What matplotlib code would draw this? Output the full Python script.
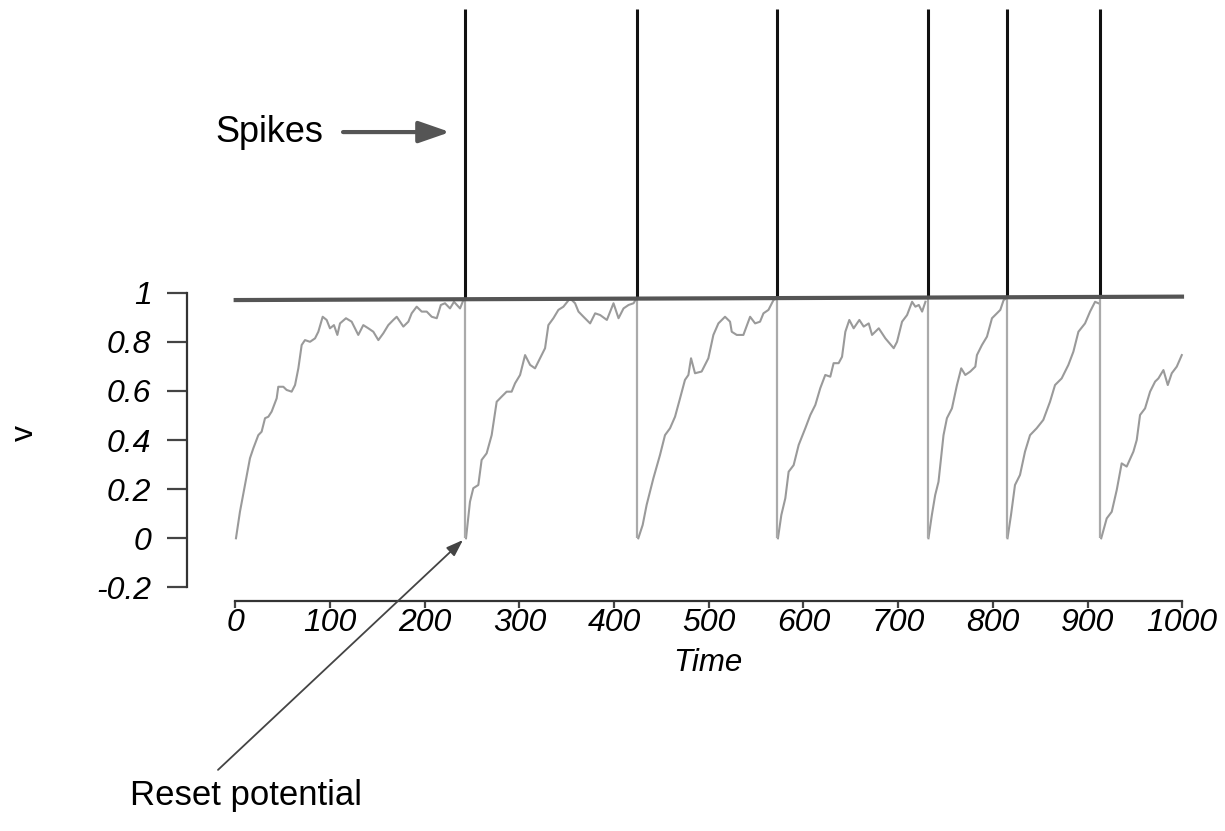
import numpy as np
from matplotlib import pyplot as plt

plt.rcParams['font.family'] = ['Liberation Sans', 'DejaVu Sans']

# membrane potential trace (time, v)
trace_t = [0.5, 4.7, 10, 15.3, 18.8, 24.1, 27.6, 31.2, 34.7, 38.2, 43.5, 45.2, 50.5, 54, 59.3, 62.9,
           66.4, 69.9, 73.4, 78.7, 84, 87.5, 92.1, 96.3, 99.8, 104, 107.6, 110.4, 116.7, 122.7, 129.7,
           135, 140.3, 145.6, 150.9, 156.2, 161.4, 166.7, 170.3, 173.8, 177.3, 182.6, 186.1, 191.4,
           196.7, 202, 207.3, 212.6, 216.9, 221.3, 226.6, 230.8, 237.2, 240.7,
           243.5, 247.7, 251.2, 256.5, 260, 265.3, 270.6, 275.9, 281.2, 286.4, 291.7, 295.3, 300.6,
           305.9, 311.2, 316.4, 321.7, 327, 330.5, 335.8, 341.1, 346.4, 353.4, 358.7, 362.3, 367.6,
           374.6, 379.9, 385.2, 392.3, 395.8, 399.3, 404.6, 409.9, 415.2, 420.5, 423.5,
           425.5, 430.1, 434.3, 441.4, 448.4, 453.7, 459, 464.3, 469.6, 474.8, 478.4, 481.2, 485.4,
           492.4, 499.5, 504.8, 510.1, 517.1, 522.4, 524.2, 529.5, 536.5, 543.6, 548.9, 554.1, 557.7,
           563, 568.3, 571,
           573, 576.6, 580.8, 584.3, 589.6, 594.9, 601.9, 607.2, 612.5, 617.7, 623, 628.3, 631.8,
           637.1, 640.7, 644.2, 648.4, 653, 659, 663.6, 668.9, 672.4, 679.5, 686.5, 695.3, 698.8,
           704.1, 709.4, 714.7, 718.2, 721.8, 725.3, 728.8,
           732, 735.6, 739.1, 742.6, 747.9, 751.5, 756.8, 762.1, 766.6, 770.9, 776.2, 781.5, 783.2,
           788.5, 793.8, 799.1, 804.3, 807.9, 811.4, 813.5,
           815.5, 819.2, 823.4, 828.7, 834, 839.3, 846.3, 853.3, 860.4, 865.7, 872.7, 879.8, 885.1,
           890.4, 897.4, 902.7, 908, 911.5,
           914.5, 920.3, 925.6, 930.9, 936.1, 941.4, 948.5, 952, 955.5, 960.8, 966.1, 971.4, 974.9,
           980.2, 984.8, 989, 994.3, 999.6]
trace_v = [0.0, 0.108, 0.217, 0.326, 0.366, 0.42, 0.434, 0.489, 0.495, 0.516, 0.57, 0.617, 0.617,
           0.604, 0.597, 0.624, 0.692, 0.787, 0.807, 0.80, 0.814, 0.841, 0.902, 0.889, 0.855, 0.868,
           0.828, 0.875, 0.896, 0.882, 0.828, 0.868, 0.855, 0.841, 0.807, 0.835, 0.868, 0.889, 0.902,
           0.882, 0.862, 0.882, 0.916, 0.943, 0.923, 0.923, 0.902, 0.896, 0.95, 0.957, 0.936, 0.963,
           0.936, 0.97,
           0.0, 0.149, 0.204, 0.217, 0.319, 0.346, 0.42, 0.556, 0.577, 0.597, 0.597, 0.631, 0.665,
           0.746, 0.706, 0.692, 0.733, 0.774, 0.868, 0.896, 0.93, 0.943, 0.977, 0.957, 0.923, 0.902,
           0.875, 0.916, 0.909, 0.889, 0.923, 0.957, 0.896, 0.936, 0.95, 0.957, 0.977,
           0.0, 0.054, 0.136, 0.244, 0.339, 0.42, 0.448, 0.495, 0.57, 0.645, 0.665, 0.733, 0.672,
           0.679, 0.733, 0.828, 0.875, 0.902, 0.882, 0.841, 0.828, 0.828, 0.902, 0.875, 0.882, 0.916,
           0.93, 0.97, 0.975,
           0.0, 0.095, 0.163, 0.271, 0.298, 0.38, 0.448, 0.502, 0.543, 0.611, 0.665, 0.658, 0.713,
           0.713, 0.739, 0.841, 0.889, 0.855, 0.889, 0.862, 0.875, 0.828, 0.855, 0.814, 0.774, 0.80,
           0.882, 0.909, 0.963, 0.943, 0.95, 0.923, 0.963,
           0.0, 0.095, 0.176, 0.23, 0.42, 0.489, 0.529, 0.624, 0.692, 0.665, 0.679, 0.699, 0.746,
           0.787, 0.821, 0.896, 0.916, 0.93, 0.97, 0.975,
           0.0, 0.095, 0.217, 0.258, 0.353, 0.42, 0.448, 0.482, 0.556, 0.624, 0.651, 0.706, 0.76,
           0.841, 0.875, 0.923, 0.963, 0.957,
           0.0, 0.081, 0.108, 0.197, 0.305, 0.292, 0.353, 0.40, 0.502, 0.529, 0.597, 0.638, 0.651,
           0.685, 0.624, 0.672, 0.699, 0.746]

spike_times = [242.5, 424.5, 572, 731, 814.5, 913.5]
spike_top = 2.155
reset_v = 0.0
thresh_t = [-2, 1002]
thresh_v = [0.970, 0.984]

xticks = [0, 100, 200, 300, 400, 500, 600, 700, 800, 900, 1000]
yticks = [-0.2, 0, 0.2, 0.4, 0.6, 0.8, 1]
ytick_labels = ['-0.2', '0', '0.2', '0.4', '0.6', '0.8', '1']

fig = plt.figure(figsize=(12.25, 8.31), dpi=100)
ax = fig.add_axes([160 / 1225, 211 / 831, 1050 / 1225, 615 / 831])
ax.set_xlim(-79.75, 1029.4)
ax.set_ylim(-0.3327, 2.1714)

t = np.array(trace_t)
v = np.array(trace_v)
edges = [0] + spike_times + [1001]
for a, b in zip(edges[:-1], edges[1:]):
    m = (t >= a) & (t < b)
    ax.plot(t[m], v[m], color='#9a9a9a', lw=1.5)

th = np.interp(spike_times, thresh_t, thresh_v)
ax.vlines(spike_times, reset_v, th, color='#aaaaaa', lw=1.6)
ax.vlines(spike_times, th, spike_top, color='#111111', lw=2.2, clip_on=False)
ax.plot(thresh_t, thresh_v, color='#555555', lw=3, solid_capstyle='butt')

ax.spines['top'].set_visible(False)
ax.spines['right'].set_visible(False)
ax.spines['left'].set_position(('data', -51.5))
ax.spines['left'].set_bounds(-0.2, 1)
ax.spines['bottom'].set_position(('data', -0.255))
ax.spines['bottom'].set_bounds(0, 1000)
for s in ['left', 'bottom']:
    ax.spines[s].set_color('#333333')
    ax.spines[s].set_linewidth(1.6)

ax.set_xticks(xticks)
ax.set_yticks(yticks)
ax.set_yticklabels(ytick_labels)
ax.tick_params(axis='y', length=14.4, width=1.6, pad=11, color='#444444', labelsize=23)
ax.tick_params(axis='x', length=5, width=1.6, pad=0, color='#444444', labelsize=23)
for lbl in ax.get_xticklabels() + ax.get_yticklabels():
    lbl.set_style('italic')

ax.set_xlabel('Time', fontsize=22.5, style='italic', va='center')
ax.xaxis.set_label_coords(0.522, -0.07)
ax.set_ylabel('v', fontsize=23, va='center', ha='center')
ax.yaxis.set_label_coords(-0.1286, 0.304)

# annotations
ax.text(-21.7, 1.654, 'Spikes', fontsize=26, ha='left', va='center')
ax.annotate('', xy=(226.6, 1.654), xytext=(113.6, 1.654),
            arrowprops=dict(arrowstyle='-|>,head_length=0.95,head_width=0.33', mutation_scale=20,
                            color='#555555', lw=3, shrinkA=0, shrinkB=0),
            annotation_clip=False)
ax.text(-111.4, -1.046, 'Reset potential', fontsize=25, ha='left', va='center')
ax.annotate('', xy=(240.3, -0.007), xytext=(-18.5, -0.943),
            arrowprops=dict(arrowstyle='-|>,head_length=0.85,head_width=0.3', mutation_scale=12,
                            color='#444444', lw=1.3, shrinkA=0, shrinkB=0),
            annotation_clip=False)

fig.savefig('out.png', dpi=100)
